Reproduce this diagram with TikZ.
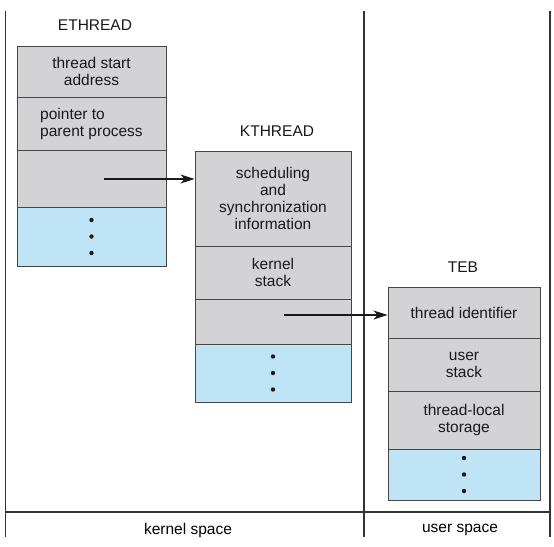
\documentclass[tikz,border=0pt]{standalone}
\usepackage{fontspec}
\setmainfont{Liberation Sans}
\usepackage{tikz}
\usetikzlibrary{arrows.meta}

\definecolor{cellgray}{RGB}{211,211,213}
\definecolor{cellblue}{RGB}{190,228,245}
\definecolor{edgegray}{RGB}{70,70,70}

\tikzset{
  cell/.style={draw=edgegray, line width=0.9pt, fill=cellgray, inner sep=0pt, align=center, text=black!90},
  dotcell/.style={cell, fill=cellblue},
  title/.style={text=black!90},
  frame/.style={line width=1.1pt, black!80},
  pointer/.style={line width=1.4pt, black!90, -{Stealth[length=14pt,width=9pt,inset=4pt]}}
}

\begin{document}
\begin{tikzpicture}[x=1pt,y=-1pt,font=\fontsize{15.5}{17}\selectfont]
                \useasboundingbox (0,0) rectangle (554,546);

                % frame
                \draw[frame] (5.5,11) -- (5.5,537);
                \draw[frame] (364,11) -- (364,537);
                \draw[frame] (550,11) -- (550,537);
                \draw[frame] (5.5,512) -- (550,512);
                \node (kspace) at (188,530) {kernel space};
                \node (uspace) at (460,530) {user space};

                % ETHREAD
                \node[title] (ethread) at (95,25) {ETHREAD};
                \node[cell,minimum width=149pt,minimum height=51pt] (e1) at (91.5,71.5) {thread start\\address};
                \node[cell,minimum width=149pt,minimum height=53pt,align=left] (e2) at (91.5,123.5) {pointer to\\parent process};
                \node[cell,minimum width=149pt,minimum height=57pt] (e3) at (91.5,178.5) {};
                \node[dotcell,minimum width=149pt,minimum height=59pt] (e4) at (91.5,236.5) {};

                % KTHREAD
                \node[title] (kthread) at (277,131) {KTHREAD};
                \node[cell,minimum width=156pt,minimum height=95pt] (k1) at (273,198.5) {scheduling\\and\\synchronization\\information};
                \node[cell,minimum width=156pt,minimum height=53pt] (k2) at (273,272.5) {kernel\\stack};
                \node[cell,minimum width=156pt,minimum height=45pt] (k3) at (273,321.5) {};
                \node[dotcell,minimum width=156pt,minimum height=58pt] (k4) at (273,373) {};

                % TEB
                \node[title] (teb) at (463,267) {TEB};
                \node[cell,minimum width=152pt,minimum height=51pt] (t1) at (464,312.5) {thread identifier};
                \node[cell,minimum width=152pt,minimum height=53pt] (t2) at (464,364.5) {user\\stack};
                \node[cell,minimum width=152pt,minimum height=58pt] (t3) at (464,420) {thread-local\\storage};
                \node[dotcell,minimum width=152pt,minimum height=51pt] (t4) at (464,474.5) {};

                \foreach \c in {e4,k4,t4} {
                    \foreach \dy in {-16.5,0,16.5} {
                        \fill[black!90] ([yshift=-\dy pt]\c.center) circle (2.2pt);
                    }
                }

                % pointers
                \coordinate (ep) at (104,179);
                \coordinate (kp) at (284,315);
                \draw[pointer] (ep) -- (ep -| k1.west);
                \draw[pointer] (kp) -- (kp -| t1.west);
\end{tikzpicture}
\end{document}
